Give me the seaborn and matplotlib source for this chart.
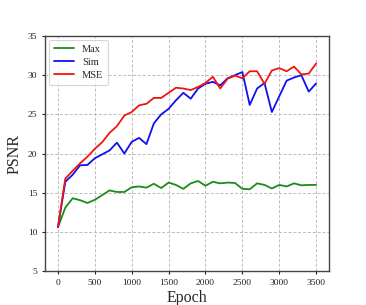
import numpy as np
import pandas as pd
import matplotlib
matplotlib.use("Agg")
import matplotlib.pyplot as plt
import seaborn as sns

epochs = list(range(0, 3600, 100))
max_vals = [10.6, 13.1, 14.3, 14.05, 13.7, 14.1, 14.7, 15.3, 15.1, 15.1,
            15.7, 15.8, 15.65, 16.15, 15.6, 16.3, 16.0, 15.5, 16.2, 16.5,
            15.9, 16.4, 16.2, 16.3, 16.25, 15.5, 15.45, 16.2, 16.0, 15.55,
            16.0, 15.8, 16.2, 15.95, 16.0, 16.0]
sim_vals = [10.6, 16.4, 17.3, 18.5, 18.55, 19.4, 19.9, 20.4, 21.4, 20.0,
            21.5, 22.0, 21.2, 23.85, 25.0, 25.7, 26.8, 27.75, 27.0, 28.3,
            28.9, 29.15, 28.7, 29.6, 30.0, 30.4, 26.2, 28.3, 29.0, 25.3,
            27.3, 29.3, 29.7, 30.0, 27.9, 28.95]
mse_vals = [10.6, 16.8, 17.8, 18.75, 19.6, 20.6, 21.45, 22.65, 23.5, 24.85,
            25.3, 26.15, 26.35, 27.1, 27.1, 27.75, 28.4, 28.3, 28.1, 28.5,
            29.0, 29.8, 28.3, 29.55, 29.95, 29.6, 30.5, 30.5, 28.9, 30.6,
            30.9, 30.5, 31.1, 30.1, 30.2, 31.5]
series_names = ["Max", "Sim", "MSE"]
colors = ["#1a8c1a", "#1010f0", "#f01414"]

df = pd.DataFrame({
    "Epoch": epochs * 3,
    "PSNR": max_vals + sim_vals + mse_vals,
    "Method": sum([[n] * len(epochs) for n in series_names], []),
})

sns.set_style("ticks")
plt.rcParams["font.family"] = ["Liberation Serif", "DejaVu Serif"]

fig = plt.figure(figsize=(3.66, 3.05), dpi=100)
ax = fig.add_axes([0.123, 0.111, 0.776, 0.771])
sns.lineplot(data=df, x="Epoch", y="PSNR", hue="Method",
             palette=dict(zip(series_names, colors)), linewidth=1.3, ax=ax)

ax.set_xlim(-175, 3675)
ax.set_ylim(5, 35)
ax.set_xticks(range(0, 3600, 500))
ax.set_yticks(range(5, 36, 5))
ax.grid(True, linestyle=(0, (3, 2)), color="#bbbbbb", linewidth=0.7)
ax.tick_params(labelsize=6.8, length=2.5, width=0.8, pad=3, colors="#222222")
for s in ax.spines.values():
    s.set_color("#444444")
    s.set_linewidth(1.0)
ax.set_xlabel("Epoch", fontsize=11.5, labelpad=2)
ax.set_ylabel("PSNR", fontsize=11.5, labelpad=4)
leg = ax.legend(loc="upper left", fontsize=7.5, frameon=True, handlelength=1.9,
                handletextpad=0.8, borderpad=0.45, labelspacing=0.35,
                borderaxespad=0.4, fancybox=True)
leg.get_frame().set_edgecolor("#cccccc")
leg.get_frame().set_linewidth(0.8)

fig.savefig("out.png", dpi=100)
